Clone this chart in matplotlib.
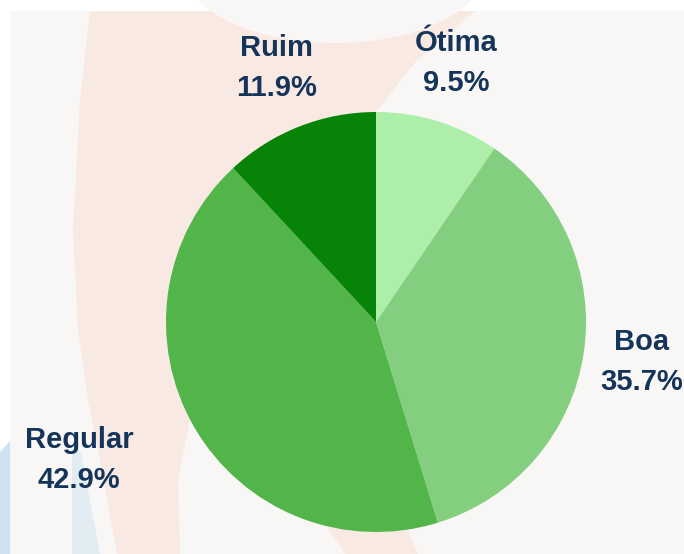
import numpy as np
import matplotlib
matplotlib.use("Agg")
import matplotlib.pyplot as plt
from matplotlib.patches import Polygon, Ellipse, Rectangle

# dados da pesquisa
categorias = ["Ótima", "Boa", "Regular", "Ruim"]
votos = [4, 15, 18, 5]
cores = ["#adefa9", "#83cf7f", "#51b54a", "#078407"]

W, H = 684, 554
fig = plt.figure(figsize=(W / 100, H / 100), dpi=100, facecolor="white")

# fundo decorativo (coordenadas em pixels)
bg = fig.add_axes([0, 0, 1, 1])
bg.set_xlim(0, W)
bg.set_ylim(H, 0)
bg.axis("off")
bg.add_patch(Rectangle((10, 11), W - 10, H - 11, color="#f8f7f5", lw=0))
rosa = "#f8e9e3"
bg.add_patch(Polygon([(90, 11), (475, 11), (417, 60), (375, 113), (300, 150),
                      (200, 300), (190, 420), (178, 480), (180, 554), (117, 554),
                      (100, 460), (88, 400), (78, 330), (73, 230), (80, 100)],
                     closed=True, color=rosa, lw=0))
bg.add_patch(Ellipse((335, -30), 300, 146, color="#f8f7f5", lw=0))
bg.add_patch(Polygon([(310, 500), (395, 500), (418, 554), (345, 554)],
                     closed=True, color=rosa, lw=0))
bg.add_patch(Polygon([(0, 452), (10, 441), (10, 554), (0, 554)],
                     closed=True, color="#cfe2ef", lw=0))
bg.add_patch(Polygon([(75, 445), (81, 453), (100, 554), (72, 554), (72, 455)],
                     closed=True, color="#e2edf3", lw=0))

# pizza
ax = fig.add_axes([166 / W, (H - 532) / H, 420 / W, 420 / H])
wedges, _ = ax.pie(votos, colors=cores, startangle=90, counterclock=False,
                   wedgeprops=dict(linewidth=0))
ax.set_xlim(-1, 1)
ax.set_ylim(-1, 1)
ax.set_aspect("auto")

total = sum(votos)
dist = [1.29, 1.28, 1.56, 1.30]
desvio = [0, 0, -5, 0]
for w, nome, v, d, off in zip(wedges, categorias, votos, dist, desvio):
    ang = np.deg2rad((w.theta1 + w.theta2) / 2 + off)
    ax.text(d * np.cos(ang), d * np.sin(ang), "%s\n%.1f%%" % (nome, 100 * v / total),
            ha="center", va="center", fontsize=21, fontweight="bold",
            family="Liberation Sans", color="#15345a", linespacing=1.55,
            clip_on=False)

fig.savefig("out.png", dpi=100, facecolor="white")
